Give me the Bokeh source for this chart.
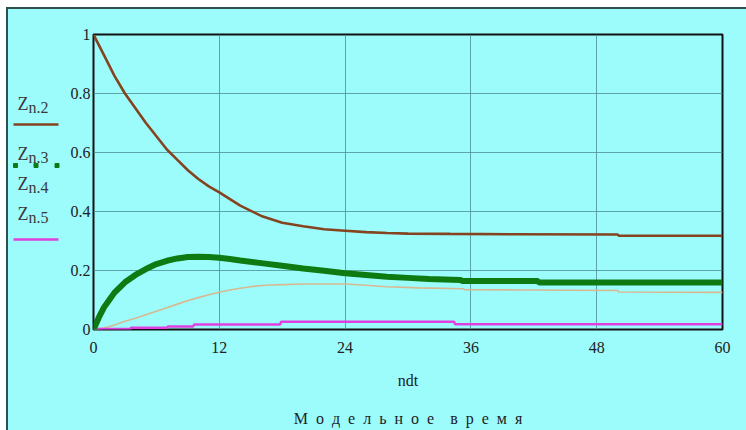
from bokeh.plotting import figure
from bokeh.layouts import row
from bokeh.models import (Range1d, FixedTicker, NumeralTickFormatter)
from bokeh.core.properties import value
from bokeh.embed import file_html
from bokeh.resources import INLINE

# ---- data ----
x_ticks = [0, 12, 24, 36, 48, 60]
y_ticks = [0, 0.2, 0.4, 0.6, 0.8, 1.0]

t2 = [0, 1, 2, 3, 4, 5, 6, 7, 8, 9, 10, 11, 12, 14, 16, 18, 20, 22, 24, 26, 28, 30, 34, 40, 50, 50.1, 60]
z2 = [1.0, 0.93, 0.86, 0.80, 0.75, 0.70, 0.655, 0.61, 0.575, 0.54, 0.51, 0.485, 0.465, 0.42, 0.385,
      0.362, 0.35, 0.34, 0.335, 0.33, 0.327, 0.325, 0.324, 0.323, 0.322, 0.318, 0.318]

t3 = [0, 0.5, 1, 1.5, 2, 3, 4, 5, 6, 7, 8, 9, 10, 11, 12, 13, 14, 16, 18, 20, 22, 24, 26, 28, 30, 32,
      35, 35.2, 42.4, 42.5, 60]
z3 = [0, 0.04, 0.075, 0.1, 0.125, 0.16, 0.185, 0.205, 0.222, 0.233, 0.241, 0.246, 0.247, 0.246, 0.243,
      0.239, 0.234, 0.225, 0.216, 0.207, 0.199, 0.191, 0.185, 0.179, 0.175, 0.171, 0.168, 0.164, 0.164,
      0.159, 0.159]

t4 = [0, 1, 2, 3, 4, 5, 6, 7, 8, 9, 10, 11, 12, 13, 14, 15, 16, 17, 18, 20, 24, 26, 28, 31, 35.3, 35.4,
      41, 50, 50.1, 60]
z4 = [0, 0.005, 0.015, 0.028, 0.038, 0.05, 0.062, 0.074, 0.086, 0.098, 0.108, 0.118, 0.126, 0.134, 0.14,
      0.145, 0.149, 0.151, 0.152, 0.154, 0.154, 0.15, 0.145, 0.141, 0.138, 0.135, 0.134, 0.132, 0.127, 0.126]

t5 = [0, 3.5, 3.6, 7, 7.1, 9.5, 9.6, 17.8, 17.9, 34.4, 34.5, 60]
z5 = [0.002, 0.002, 0.006, 0.006, 0.01, 0.01, 0.017, 0.017, 0.026, 0.026, 0.018, 0.018]

legend_names = ["n.2", "n.3", "n.4", "n.5"]

BG = "#9CFCFC"
SERIF = "Liberation Serif"
C2, C3, C4, C5 = "#85431F", "#0E7A12", "#D8B890", "#E040E0"
H = 421
LW = 54
SP = "\u2002"  # en space used for the letter-spaced caption

# ---------------- main chart ----------------
p = figure(width=738 - LW, height=H, x_range=Range1d(0, 60), y_range=Range1d(0, 1),
           output_backend="svg", toolbar_location=None,
           min_border_left=31, min_border_right=24, min_border_top=25, min_border_bottom=101)
p.background_fill_color = BG
p.border_fill_color = BG
p.outline_line_color = "#111111"
p.outline_line_width = 2

for ax in (p.xaxis[0], p.yaxis[0]):
    ax.axis_line_color = None
    ax.major_tick_line_color = None
    ax.minor_tick_line_color = None
    ax.major_tick_out = 0
    ax.major_tick_in = 0
    ax.major_label_text_font = SERIF
    ax.major_label_text_font_size = "16px"
    ax.major_label_text_color = "#222222"
p.xaxis.ticker = FixedTicker(ticks=x_ticks)
p.yaxis.ticker = FixedTicker(ticks=y_ticks)
p.yaxis.formatter = NumeralTickFormatter(format="0.[0]")
p.xaxis.major_label_standoff = 12
p.yaxis.major_label_standoff = 3

caption = SP.join("Модельное") + SP * 2 + SP.join("время")
p.xaxis.axis_label = "ndt\n" + caption
p.xaxis.axis_label_text_font = SERIF
p.xaxis.axis_label_text_font_style = "normal"
p.xaxis.axis_label_text_font_size = "16px"
p.xaxis.axis_label_text_color = "#222222"
p.xaxis.axis_label_text_line_height = 2.25
p.xaxis.axis_label_standoff = 16

p.grid.grid_line_color = "#4E8E94"
p.grid.grid_line_width = 1
p.grid.grid_line_alpha = 0.8

p.line(t4, z4, color=C4, line_width=1.6)
p.line(t5, z5, color=C5, line_width=2.5)
p.line(t3, z3, color=C3, line_width=6)
p.line(t2, z2, color=C2, line_width=2.6)

# ---------------- legend strip on the left (page-pixel coordinates) ----------------
lg = figure(width=LW, height=H, x_range=Range1d(8, 8 + LW), y_range=Range1d(329, 34),
            output_backend="svg", toolbar_location=None, x_axis_type=None, y_axis_type=None,
            min_border=0)
lg.background_fill_color = BG
lg.border_fill_color = BG
lg.outline_line_color = None
lg.grid.visible = False

z_base = [103, 153, 183, 213]
lg.text(x=[17] * 4, y=z_base, text=["Z"] * 4, text_font=value(SERIF), text_font_size="18px",
        text_color="#3A3A3A", text_baseline="alphabetic")
lg.text(x=[28] * 4, y=[b + 4 for b in z_base], text=legend_names, text_font=value(SERIF),
        text_font_size="16px", text_color="#3A3A3A", text_baseline="alphabetic")
lg.line([13, 58], [124, 124], color=C2, line_width=2.6)
lg.scatter([15, 35.5, 56.5], [165, 165, 165], marker="square", size=4, color=C3)
lg.line([13, 58], [239, 239], color=C5, line_width=2.5)

layout = row(lg, p, spacing=0)
layout.styles = {"border-top": "2px solid #2F4F4F", "border-left": "2px solid #2F4F4F",
                 "margin-left": "6px", "margin-top": "7px", "background-color": BG}

open("out.html", "w").write(file_html(layout, INLINE))
